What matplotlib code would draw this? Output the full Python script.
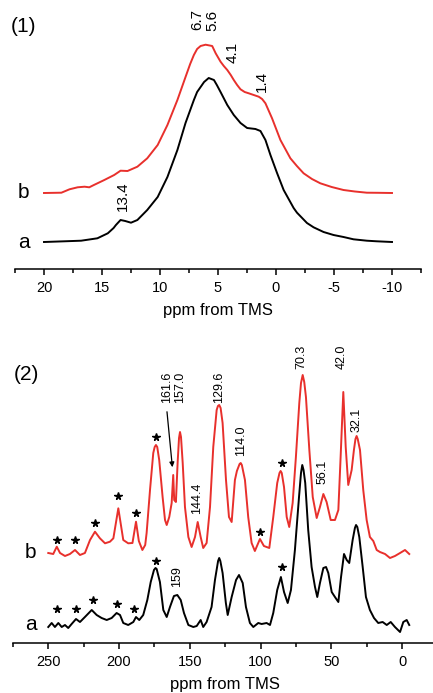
import numpy as np
import matplotlib
matplotlib.use("Agg")
import matplotlib.pyplot as plt
from matplotlib.ticker import MultipleLocator

plt.rcParams['font.family'] = ['Liberation Sans', 'DejaVu Sans']
plt.rcParams['axes.unicode_minus'] = False

RED = '#e8302c'

# ---- (1) 1H spectra, sample a and b (intensity above own baseline) ----
h_ppm_a = [20.0, 18.25, 16.8, 15.4, 14.5, 14.0, 13.8, 13.4, 13.0, 12.5, 11.95, 11.1, 10.2,
           9.36, 8.5, 7.8, 7.08, 6.8, 6.5, 6.2, 5.8, 5.35, 5.1, 4.78, 4.2, 3.64, 3.06, 2.49,
           1.77, 1.34, 0.91, 0.48, -0.09, -0.66, -1.52, -1.81, -2.67, -3.24, -4.1, -4.96,
           -5.82, -6.68, -7.83, -8.69, -10.0]
h_int_a = [0, 0.7, 1.3, 3.7, 8.7, 14, 17, 22, 21, 19.3, 22, 32, 45,
           65, 92, 119, 142, 150, 155, 160, 164, 162, 157, 150, 137, 127, 119, 114,
           113, 111, 102, 87, 69, 52, 34, 29.3, 19, 14.7, 10, 7,
           5, 2.7, 1.3, 0.7, 0]

h_ppm_b = [20.0, 18.5, 17.8, 17.1, 16.5, 16.1, 15.7, 14.8, 13.95, 13.4, 12.8, 11.95,
           11.1, 10.2, 9.36, 8.5, 7.8, 7.4, 7.08, 6.8, 6.5, 6.07, 5.5, 5.2, 4.78, 4.5, 4.2,
           3.9, 3.64, 3.35, 3.06, 2.7, 2.35, 1.49, 1.2, 0.91, 0.34, -0.38, -1.24, -1.8,
           -2.38, -3.1, -3.82, -4.8, -5.82, -6.8, -7.83, -8.8, -10.0]
h_int_b = [0, 0.3, 3.7, 5.7, 6.3, 5.7, 8, 13, 18, 22.3, 22, 26.3,
           34.7, 48, 68, 93, 116, 129, 138, 144, 147, 148.3, 147, 139.7, 131.3, 127, 123,
           118, 113, 108, 103.7, 101, 99.7, 96.3, 94, 89.7, 74.7, 53, 34.7, 27,
           19.7, 14, 9.7, 6, 3, 1.5, 0.3, 0.2, 0]

# ---- (2) 13C spectra ----
c_ppm_a = [250, 247.6, 245.3, 242.9, 240.5, 238.2, 235.9, 233.5, 230.4, 227.6, 224.1,
           219.3, 215.8, 212.3, 208.7, 205.2, 201.7, 199.3, 197, 193.5, 189.9, 188,
           185.7, 182.9, 180, 177.6, 175.3, 174.2, 173.4, 171.1, 168.7, 166.3, 164, 161.2,
           158.8, 156.4, 154.1, 151, 147.5, 145.1, 142.3, 140.5, 138.1, 134.6, 132.2,
           130, 129.2, 128.4, 126.8, 124.5, 123.2, 120.4, 117.3, 115.2, 112.6, 110.3,
           107.5, 105.1, 101.6, 99.2, 95.7, 93.3, 91, 88.2, 85.6, 83.4, 80.8, 78.5, 75.7,
           72.8, 71.4, 70.5, 69.6, 68.4, 66.3, 63.9, 61.5, 59.9, 58, 55.6, 53.7, 52.1, 49.7,
           47.4, 45, 43.1, 41, 39.1, 37.3, 34.9, 33.3, 32.5, 31.6, 30.2, 27.8, 25.5, 22.7,
           19.8, 16.8, 13.7, 10.8, 8, 5, 1.4, -0.9, -3.3, -5.1]
c_int_a = [-2, 2, -2, 2, -2, 0, -3, 1, 6, 3, 8,
           15, 10, 7, 5, 7, 12, 10, 2, 0, 3, 8,
           5, 10, 25, 43, 55, 57, 56, 43, 15, 8, 18, 29,
           30, 25, 12, 0, -2, -1, 5, -2, 3, 18, 45,
           64, 67, 64, 52, 22, 10, 28, 45, 50, 42, 18,
           2, -2, 2, 1, 2, 0, 12, 35, 48, 33, 22, 35, 75,
           128, 152, 160, 155, 142, 95, 58, 38, 28, 42, 57, 58, 52, 33,
           28, 23, 48, 71, 65, 62, 85, 97, 100, 98, 88, 58, 28, 15,
           7, 2, 3, 0, 3, -2, -7, 3, 5, 0]

c_ppm_b = [250, 246.5, 244, 241.7, 238.2, 234.7, 231.1, 227.6, 224.1, 220.5, 217,
           213.5, 209.9, 206.4, 204, 200.5, 197, 193.5, 190.5, 188, 186, 183.5, 181.5,
           180.5, 178.1, 175.8, 174.8, 173.9, 173, 171.6, 169.2, 167.5, 166.3, 164.5,
           162.8, 161.7, 161, 159.8, 158.6, 157.6, 156.9, 156.2, 155, 153.4, 151, 148.7,
           146.3, 144.4, 142.3, 140.5, 138.1, 135.7, 133.4, 131, 130.1, 129.2, 128.2,
           126.8, 124.4, 122.3, 120.4, 118.1, 116.7, 114.8, 114, 113.2, 111, 108.7,
           106.3, 104, 100.4, 97.6, 93.8, 91, 88.2, 86.6, 85.8, 85, 83.4, 81.5,
           79.7, 77.3, 75, 72.6, 71.4, 70.2, 69.1, 67.9, 65.5, 63.1, 60.3, 58, 55.6, 53.3,
           50.4, 47.4, 45, 43.4, 41.5, 39.8, 38, 35.6, 34, 32.9, 32.1, 31.3, 29.7, 27.4,
           25, 22.7, 20.3, 17.9, 15.6, 12, 8.5, 5, 1.4, -2.1, -5.1]
c_int_b = [0, -1, 6.3, 0, -3, -1, 3, -2, 0, 13, 21.3,
           14.7, 9.7, 11.3, 14.7, 44.7, 13, 9.7, 10, 31.3, 12, 3, 8,
           20, 63, 100, 106, 108, 106, 93, 56, 33, 28, 36,
           50, 78, 53, 51, 90, 115, 121, 116, 90, 46, 16, 6,
           16, 31, 16, 5, 10, 46, 106, 143, 147, 148, 145,
           130, 73, 36, 31, 73, 82, 89, 90, 88, 73, 36,
           10, 2, 14, 7, 5, 36, 70, 80, 82, 80, 66, 36,
           26, 50, 96, 150, 170, 178, 171, 156, 103, 56, 35, 46, 59, 51,
           33, 33, 43, 96, 161, 106, 68, 83, 103, 114, 117, 114, 103, 63,
           33, 16, 12, 3, 1, -1, -5, -3, 0, 3, -1]

# peak labels: (text, ppm, height)
h_labels = [('6.7', 6.78, 222), ('5.6', 5.49, 222), ('4.1', 3.72, 190),
            ('1.4', 1.26, 161), ('13.4', 13.23, 46)]
c_labels = [('161.6', 166.3, 238), ('157.0', 156.9, 238), ('129.6', 129.4, 238),
            ('114.0', 114.0, 184), ('144.4', 145.1, 127), ('70.3', 70.9, 268),
            ('42.0', 42.7, 268), ('32.1', 32.0, 205), ('56.1', 56.1, 153),
            ('159', 159.3, 48)]
# spinning sidebands
star_ppm_b = [243.6, 230.9, 217, 200.5, 188, 173.9, 100.4, 85]
star_y_b = [85, 85, 102, 129, 112, 188, 93, 162]
star_ppm_a = [243.6, 230.4, 218.6, 201.2, 189.4, 174.1, 84.6]
star_y_a = [16, 16, 25, 21, 16, 64, 58]


def style_axis(ax, major, minor, pad, labelpad):
    for s in ['top', 'left', 'right']:
        ax.spines[s].set_visible(False)
    ax.spines['bottom'].set_linewidth(1.1)
    ax.set_yticks([])
    ax.xaxis.set_major_locator(MultipleLocator(major))
    ax.xaxis.set_minor_locator(MultipleLocator(minor))
    ax.tick_params(axis='x', which='major', direction='out', length=4, width=1.1,
                   labelsize=10.5, pad=pad)
    ax.tick_params(axis='x', which='minor', direction='out', length=3, width=1.1)
    ax.set_xlabel('ppm from TMS', fontsize=12, labelpad=labelpad)
    ax.patch.set_visible(False)


fig = plt.figure(figsize=(4.33, 6.93), dpi=100)

# panel (1)
ax1 = fig.add_axes([15 / 433, 1 - 269 / 693, 406 / 433, 269 / 693])
ax1.plot(h_ppm_a, h_int_a, color='black', lw=1.4)
ax1.plot(h_ppm_b, np.array(h_int_b) + 49, color=RED, lw=1.4)
ax1.set_xlim(22.5, -12.5)
ax1.set_ylim(-27, 242)
style_axis(ax1, 5, 2.5, 4.5, 6)
for txt, x, y in h_labels:
    ax1.text(x, y, txt, rotation=90, ha='center', va='center', fontsize=11)
tr1 = ax1.get_yaxis_transform()
ax1.text(0.007, 0, 'a', transform=tr1, fontsize=15, va='center', ha='left')
ax1.text(0.007, 49, 'b', transform=tr1, fontsize=15, va='center', ha='left')
fig.text(11 / 433, 1 - 26 / 693, '(1)', fontsize=15, va='center', ha='left')

# panel (2)
ax2 = fig.add_axes([12.9 / 433, 1 - 643 / 693, 424.5 / 433, 313 / 693])
ax2.plot(c_ppm_a, c_int_a, color='black', lw=1.4)
ax2.plot(c_ppm_b, np.array(c_int_b) + 72, color=RED, lw=1.4)
ax2.set_xlim(275, -25)
ax2.set_ylim(-18, 295)
style_axis(ax2, 50, 25, 4.5, 6)
for txt, x, y in c_labels:
    ax2.text(x, y, txt, rotation=90, ha='center', va='center', fontsize=9)
ax2.annotate('', xy=(162.1, 155), xytext=(166.3, 216),
             arrowprops=dict(arrowstyle='-|>', color='black', lw=0.9, mutation_scale=7))
ax2.plot(star_ppm_b, star_y_b, ls='none', marker='*', ms=5.5, color='black')
ax2.plot(star_ppm_a, star_y_a, ls='none', marker='*', ms=5.5, color='black')
tr2 = ax2.get_yaxis_transform()
ax2.text(0.028, 0, 'a', transform=tr2, fontsize=15, va='center', ha='left')
ax2.text(0.028, 72, 'b', transform=tr2, fontsize=15, va='center', ha='left')
fig.text(14 / 433, 1 - 375 / 693, '(2)', fontsize=15, va='center', ha='left')

fig.savefig('out.png', dpi=100)
